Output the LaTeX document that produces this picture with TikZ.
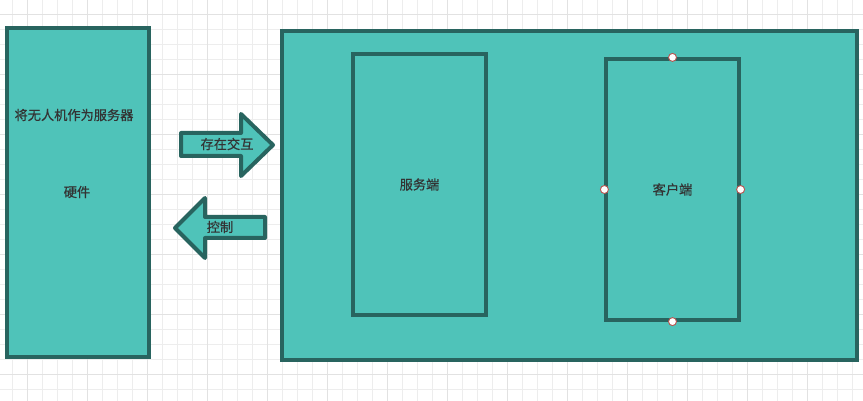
\documentclass[tikz,border=0pt]{standalone}
\usepackage{fontspec}
\newfontfamily\cjk[FakeBold=0.6]{Noto Sans CJK SC}
\definecolor{tealfill}{HTML}{4FC3B9}
\definecolor{tealdark}{HTML}{28645F}
\definecolor{txt}{HTML}{333333}
\definecolor{gridminor}{HTML}{EDEDED}
\definecolor{gridmajor}{HTML}{E2E2E2}
\definecolor{ptred}{HTML}{B85450}
\tikzset{
  box/.style={draw=tealdark, fill=tealfill, line width=4pt, line join=miter, inner sep=0pt},
  thinbox/.style={draw=tealdark, fill=tealfill, line width=3.2pt, inner sep=0pt},
  arrowshape/.style={draw=tealdark, fill=tealfill, line width=4pt, line join=round},
  lbl/.style={font=\cjk\fontsize{13.2}{15}\selectfont, text=txt, inner sep=0pt},
  handle/.style={circle, draw=ptred, fill=white, line width=0.9pt, minimum size=8pt, inner sep=0pt}
}
\begin{document}
\begin{tikzpicture}[x=1pt,y=-1pt]
\useasboundingbox (0,0) rectangle (863,401);
\fill[white] (0,0) rectangle (863,401);
% grid
\foreach \gx in {12,27,...,862} \draw[gridminor, line width=0.8pt] (\gx,0) -- (\gx,401);
\foreach \gy in {14,29,...,400} \draw[gridminor, line width=0.8pt] (0,\gy) -- (863,\gy);
\foreach \gx in {27,87,...,862} \draw[gridmajor, line width=0.8pt] (\gx,0) -- (\gx,401);
\foreach \gy in {14,74,...,400} \draw[gridmajor, line width=0.8pt] (0,\gy) -- (863,\gy);
% left box
\node[box, minimum width=142pt, minimum height=329pt] (hw) at (78,192.5) {};
\node[lbl] (t1) at (74,115) {将无人机作为服务器};
\node[lbl] (t2) at (77,192) {硬件};
% big box
\node[box, minimum width=575pt, minimum height=329pt] (big) at (569.5,195.5) {};
\node[box, minimum width=133pt, minimum height=261pt] (srv) at (419.5,184.5) {};
\node[lbl] at (srv.center) {服务端};
\node[thinbox, minimum width=133pt, minimum height=261pt] (cli) at (672.5,189.5) {};
\node[lbl] at (cli.center) {客户端};
\node[handle] (h1) at (cli.north) {};
\node[handle] (h2) at (cli.south) {};
\node[handle] (h3) at (cli.west) {};
\node[handle] (h4) at (cli.east) {};
% arrows
\draw[arrowshape] (181,133) -- (241,133) -- (241,114) -- (273,145) -- (241,176) -- (241,156) -- (181,156) -- cycle;
\node[lbl] (a1) at (227,144) {存在交互};
\draw[arrowshape] (265,217) -- (205,217) -- (205,198) -- (175,228) -- (205,258) -- (205,238) -- (265,238) -- cycle;
\node[lbl] (a2) at (220,227) {控制};
\end{tikzpicture}
\end{document}
